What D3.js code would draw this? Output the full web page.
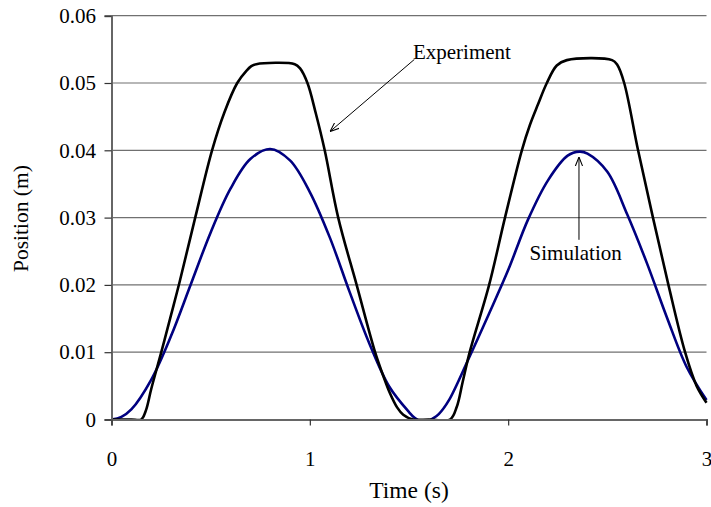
<!DOCTYPE html>
<html>
<head>
<meta charset="utf-8">
<script src="https://cdn.jsdelivr.net/npm/d3@7"></script>
<style>
  body { margin: 0; background: #fff; }
  svg { display: block; font-family: "Liberation Serif", "Times New Roman", serif; }
</style>
</head>
<body>
<div id="chart"></div>
<script>
// Values
const yTicks = [0, 0.01, 0.02, 0.03, 0.04, 0.05, 0.06];
const xTicks = [0, 1, 2, 3];

// Experiment (measured position)
const expTime = [0, 0.1, 0.15, 0.174, 0.2, 0.251, 0.3, 0.344, 0.423, 0.507, 0.57, 0.634, 0.68, 0.705, 0.73,
  0.924, 0.95, 0.988, 1.03, 1.075, 1.143, 1.236, 1.329, 1.37, 1.404, 1.44, 1.471, 1.52, 1.6,
  1.707, 1.741, 1.77, 1.806, 1.904, 1.984, 2.069, 2.11, 2.15, 2.195, 2.245, 2.296,
  2.524, 2.55, 2.585, 2.655, 2.73, 2.808, 2.892, 2.95, 3.0];
const expPos = [0, 0, 0, 0.0014, 0.0045, 0.01, 0.0155, 0.0205, 0.0301, 0.04, 0.0457, 0.05, 0.0518, 0.0525, 0.0528,
  0.0528, 0.0522, 0.05, 0.0455, 0.04, 0.03, 0.02, 0.01, 0.0065, 0.0039, 0.0018, 0.0007, 0, 0,
  0, 0.0019, 0.0055, 0.01, 0.02, 0.03, 0.04, 0.0438, 0.0468, 0.05, 0.0526, 0.0534,
  0.0534, 0.0527, 0.05, 0.04, 0.03, 0.02, 0.01, 0.005, 0.0025];

// Simulation
const simTime = [0, 0.05, 0.1, 0.2, 0.3, 0.4, 0.5, 0.6, 0.7, 0.8, 0.9, 1.0, 1.1, 1.2, 1.3, 1.4, 1.5,
  1.53, 1.575, 1.623, 1.65, 1.7, 1.8, 1.9, 2.0, 2.1, 2.2, 2.3, 2.36, 2.4, 2.5, 2.6, 2.7, 2.8, 2.9, 3.0];
const simPos = [0, 0.0004, 0.0015, 0.0059, 0.0124, 0.0201, 0.0278, 0.0343, 0.0387, 0.0402, 0.0385, 0.0338,
  0.0271, 0.019, 0.0113, 0.0049, 0.0011, 0.0002, -0.0004, 0.0002, 0.0008, 0.0028, 0.009, 0.0155, 0.0222,
  0.0297, 0.0355, 0.0392, 0.0398, 0.0395, 0.0368, 0.0305, 0.0232, 0.0152, 0.0078, 0.0029];

const margin = { top: 15.7, right: 4.5, bottom: 87.5, left: 111.5 };
const width = 711 - margin.left - margin.right;
const height = 507 - margin.top - margin.bottom;

const svg = d3.select("#chart")
    .append("svg")
    .attr("width", 711)
    .attr("height", 507)
    .append("g")
    .attr("transform", `translate(${margin.left},${margin.top})`);

const x = d3.scaleLinear().domain([0, 3]).range([0, width]);
const y = d3.scaleLinear().domain([0, 0.06]).range([height, 0]);

const defs = svg.append("defs");
defs.append("clipPath")
    .attr("id", "plot-clip")
    .append("rect")
    .attr("x", 0)
    .attr("y", -2)
    .attr("width", width + 2)
    .attr("height", height + 2);

// Gridlines
svg.append("g")
    .selectAll("line")
    .data(yTicks.slice(1))
    .enter().append("line")
    .attr("x1", 0)
    .attr("x2", width)
    .attr("y1", d => y(d))
    .attr("y2", d => y(d))
    .attr("stroke", "#707070")
    .attr("stroke-width", 1.2);

// Lines
const expData = expTime.map((t, i) => ({ t: t, v: expPos[i] }));
const simData = simTime.map((t, i) => ({ t: t, v: simPos[i] }));

const line = d3.line()
    .x(d => x(d.t))
    .y(d => y(d.v))
    .curve(d3.curveCatmullRom.alpha(0.5));

const plot = svg.append("g").attr("clip-path", "url(#plot-clip)");

plot.append("path")
    .datum(simData)
    .attr("fill", "none")
    .attr("stroke", "#000080")
    .attr("stroke-width", 2.6)
    .attr("d", line);

plot.append("path")
    .datum(expData)
    .attr("fill", "none")
    .attr("stroke", "#000")
    .attr("stroke-width", 2.6)
    .attr("d", line);

// Y axis
const yAxis = svg.append("g")
    .call(d3.axisLeft(y)
        .tickValues(yTicks)
        .tickSize(7)
        .tickPadding(8.5)
        .tickFormat(d => d === 0 ? "0" : d.toFixed(2)));

// X axis
const xAxis = svg.append("g")
    .attr("transform", `translate(0,${height})`)
    .call(d3.axisBottom(x)
        .tickValues(xTicks)
        .tickSize(6)
        .tickPadding(26)
        .tickFormat(d3.format("d")));

[yAxis, xAxis].forEach(a => {
    a.attr("font-family", null);
    a.select(".domain").attr("stroke", "#666").attr("stroke-width", 2);
    a.selectAll(".tick line").attr("stroke", "#333").attr("stroke-width", 1.2);
    a.selectAll("text")
        .style("font-size", "21px")
        .attr("fill", "#000");
});

// Axis labels
svg.append("text")
    .attr("x", width / 2)
    .attr("y", height + 79)
    .attr("text-anchor", "middle")
    .style("font-size", "23.5px")
    .text("Time (s)");

svg.append("text")
    .attr("transform", "rotate(-90)")
    .attr("x", -height / 2 - 1)
    .attr("y", -margin.left + 28)
    .attr("text-anchor", "middle")
    .style("font-size", "21.5px")
    .text("Position (m)");

// Annotations
defs.append("marker")
    .attr("id", "arrow")
    .attr("viewBox", "0 0 10 10")
    .attr("refX", 10)
    .attr("refY", 5)
    .attr("markerWidth", 9)
    .attr("markerHeight", 9)
    .attr("markerUnits", "userSpaceOnUse")
    .attr("orient", "auto")
    .append("path")
    .attr("d", "M0,1 L10,5 L0,9")
    .attr("fill", "none")
    .attr("stroke", "#000")
    .attr("stroke-width", 1.2);

svg.append("text")
    .attr("x", x(1.52))
    .attr("y", y(0.0535))
    .style("font-size", "21px")
    .text("Experiment");

svg.append("line")
    .attr("x1", x(1.527))
    .attr("y1", y(0.0535))
    .attr("x2", x(1.102))
    .attr("y2", y(0.0428))
    .attr("stroke", "#000")
    .attr("stroke-width", 1)
    .attr("marker-end", "url(#arrow)");

svg.append("text")
    .attr("x", x(2.108))
    .attr("y", y(0.0237))
    .style("font-size", "21px")
    .text("Simulation");

svg.append("line")
    .attr("x1", x(2.357))
    .attr("y1", y(0.0267))
    .attr("x2", x(2.357))
    .attr("y2", y(0.0390))
    .attr("stroke", "#000")
    .attr("stroke-width", 1)
    .attr("marker-end", "url(#arrow)");
</script>
</body>
</html>
